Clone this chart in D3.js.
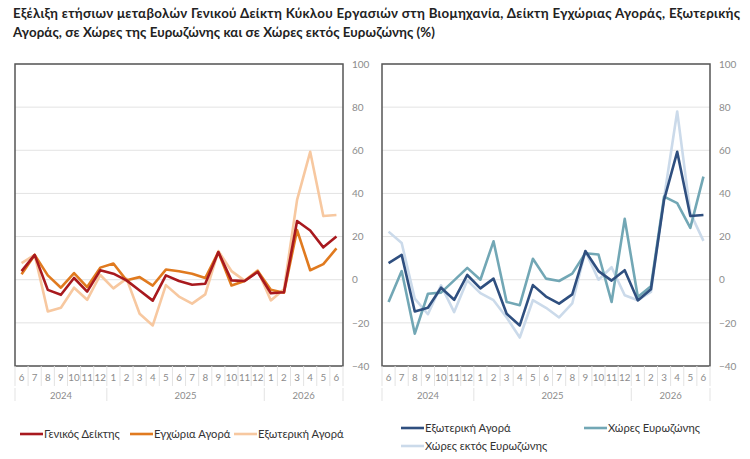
<!DOCTYPE html>
<html>
<head>
<meta charset="utf-8">
<script src="https://cdn.jsdelivr.net/npm/d3@7"></script>
<style>
  body { margin: 0; background: #fff; }
  svg { font-family: Lato, "Noto Sans", sans-serif; }
</style>
</head>
<body>
<svg id="chart" width="750" height="459"></svg>
<script>
// month labels and years
const months = ["6","7","8","9","10","11","12","1","2","3","4","5","6","7","8","9","10","11","12","1","2","3","4","5","6"];
const years = [
  { label: "2024", from: 0, to: 6 },
  { label: "2025", from: 7, to: 18 },
  { label: "2026", from: 19, to: 24 }
];
const yTicks = [-40, -20, 0, 20, 40, 60, 80, 100];

// series values
const general  = [4, 11.5, -4.7, -7, 0.8, -5.5, 4.4, 2.8, -0.3, -5, -9.7, 2, -0.6, -2.3, -1.9, 12.8, -0.3, -0.6, 3.6, -6.3, -5.8, 27.2, 22.8, 15, 20];
const domestic = [2.5, 11.5, 2, -3.7, 3.1, -3.4, 5.6, 7.5, -0.3, 1.2, -2.7, 4.7, 3.9, 2.8, 0.8, 12.8, -2.7, -0.6, 4, -4.7, -6, 23, 4.4, 7.2, 14.5];
const foreign  = [7.7, 11.5, -14.7, -13, -3.7, -9.3, 2.2, -4, 0.5, -15.8, -21.2, -2.5, -7.8, -11.1, -6.8, 13.3, 4, -0.4, 4.4, -9.6, -4.4, 37, 59.3, 29.5, 30];
const euroArea = [-10.3, 4, -25, -6.5, -6, -0.3, 5.5, 0, 17.8, -10.3, -11.8, 9.7, 0.5, -0.6, 2.8, 12.3, 11.7, -10.3, 28.2, -8, -3, 38.5, 35.5, 24, 47.8];
const nonEuro  = [22.3, 17, -8.8, -16, -2.6, -15, -0.3, -6.2, -9.5, -17.5, -26.8, -9.5, -13, -17.5, -11, 13.2, 0, 5.8, -7.2, -9.5, -5.7, 38, 78, 31, 18];

const leftSeries = [
  { name: "Γενικός Δείκτης", values: general, color: "#a8191e" },
  { name: "Εγχώρια Αγορά", values: domestic, color: "#e07a1f" },
  { name: "Εξωτερική Αγορά", values: foreign, color: "#f7c8a0" }
];
const rightSeries = [
  { name: "Εξωτερική Αγορά", values: foreign, color: "#2f4f7f" },
  { name: "Χώρες Ευρωζώνης", values: euroArea, color: "#72a7b5" },
  { name: "Χώρες εκτός Ευρωζώνης", values: nonEuro, color: "#cbdaea" }
];
// draw order: last listed on the bottom
const leftOrder = [2, 1, 0];
const rightOrder = [2, 1, 0];

const svg = d3.select("#chart");

// title
const title = svg.append("text")
  .attr("x", 13)
  .attr("font-size", 13.3)
  .attr("font-weight", "bold")
  .attr("fill", "#222");
title.append("tspan").attr("x", 13).attr("y", 18)
  .attr("textLength", 727).attr("lengthAdjust", "spacing")
  .text("Εξέλιξη ετήσιων μεταβολών Γενικού Δείκτη Κύκλου Εργασιών στη Βιομηχανία, Δείκτη Εγχώριας Αγοράς, Εξωτερικής");
title.append("tspan").attr("x", 13).attr("y", 37)
  .attr("textLength", 422).attr("lengthAdjust", "spacing")
  .text("Αγοράς,  σε Χώρες της Ευρωζώνης και σε Χώρες εκτός Ευρωζώνης (%)");

function drawPanel(x0, series, order) {
  const top = 64, bottom = 366, width = 328;
  const g = svg.append("g");

  const x = d3.scaleBand().domain(d3.range(months.length)).range([x0, x0 + width]);
  const y = d3.scaleLinear().domain([-40, 100]).range([bottom, top]);

  // grid
  g.selectAll(".grid").data(yTicks).enter().append("line")
    .attr("x1", x0).attr("x2", x0 + width)
    .attr("y1", d => y(d)).attr("y2", d => y(d))
    .attr("stroke", "#e3e3e3").attr("stroke-width", 1);

  // right axis labels
  const yAxis = d3.axisRight(y).tickValues(yTicks).tickSize(0).tickPadding(9);
  const ya = g.append("g").attr("transform", `translate(${x0 + width},0)`).call(yAxis);
  ya.select(".domain").remove();
  ya.selectAll("text").attr("fill", "#8c8c8c").attr("font-size", 10)
    .attr("font-family", "Lato, 'Noto Sans', sans-serif");

  // lines
  const line = d3.line()
    .x((d, i) => x(i) + x.bandwidth() / 2)
    .y(d => y(d));
  order.forEach(k => {
    g.append("path")
      .datum(series[k].values)
      .attr("d", line)
      .attr("fill", "none")
      .attr("stroke", series[k].color)
      .attr("stroke-width", 2.6)
      .attr("stroke-linejoin", "round");
  });

  // frame
  g.append("rect")
    .attr("x", x0).attr("y", top)
    .attr("width", width).attr("height", bottom - top)
    .attr("fill", "none").attr("stroke", "#555").attr("stroke-width", 1.5);

  // month separators and labels
  const bounds = d3.range(months.length + 1).map(i => x0 + i * x.step());
  g.selectAll(".msep").data(bounds).enter().append("line")
    .attr("x1", d => d).attr("x2", d => d)
    .attr("y1", bottom).attr("y2", bottom + 20)
    .attr("stroke", "#e3e3e3");
  g.selectAll(".mlab").data(months).enter().append("text")
    .attr("x", (d, i) => x(i) + x.bandwidth() / 2)
    .attr("y", bottom + 15)
    .attr("text-anchor", "middle")
    .attr("font-size", 9.8)
    .attr("fill", "#8c8c8c")
    .text(d => d);

  // year separators and labels
  const ybounds = [0, 7, 19, 25].map(i => x0 + i * x.step());
  g.selectAll(".ysep").data(ybounds).enter().append("line")
    .attr("x1", d => d).attr("x2", d => d)
    .attr("y1", bottom + 22).attr("y2", bottom + 35)
    .attr("stroke", "#e3e3e3");
  g.selectAll(".ylab").data(years).enter().append("text")
    .attr("x", d => (x(d.from) + x(d.to) + x.bandwidth()) / 2)
    .attr("y", bottom + 33)
    .attr("text-anchor", "middle")
    .attr("font-size", 9.5)
    .attr("fill", "#8c8c8c")
    .text(d => d.label);
}

drawPanel(15, leftSeries, leftOrder);
drawPanel(382, rightSeries, rightOrder);

// legends
function legendItem(s, lx, ly) {
  svg.append("line")
    .attr("x1", lx).attr("x2", lx + 23)
    .attr("y1", ly).attr("y2", ly)
    .attr("stroke", s.color).attr("stroke-width", 2.6);
  svg.append("text")
    .attr("x", lx + 24).attr("y", ly + 4)
    .attr("font-size", 11.2).attr("fill", "#333")
    .text(s.name);
}
legendItem(leftSeries[0], 20, 434);
legendItem(leftSeries[1], 130, 434);
legendItem(leftSeries[2], 234, 434);
legendItem(rightSeries[0], 401, 428);
legendItem(rightSeries[1], 584, 428);
legendItem(rightSeries[2], 401, 446);
</script>
</body>
</html>
